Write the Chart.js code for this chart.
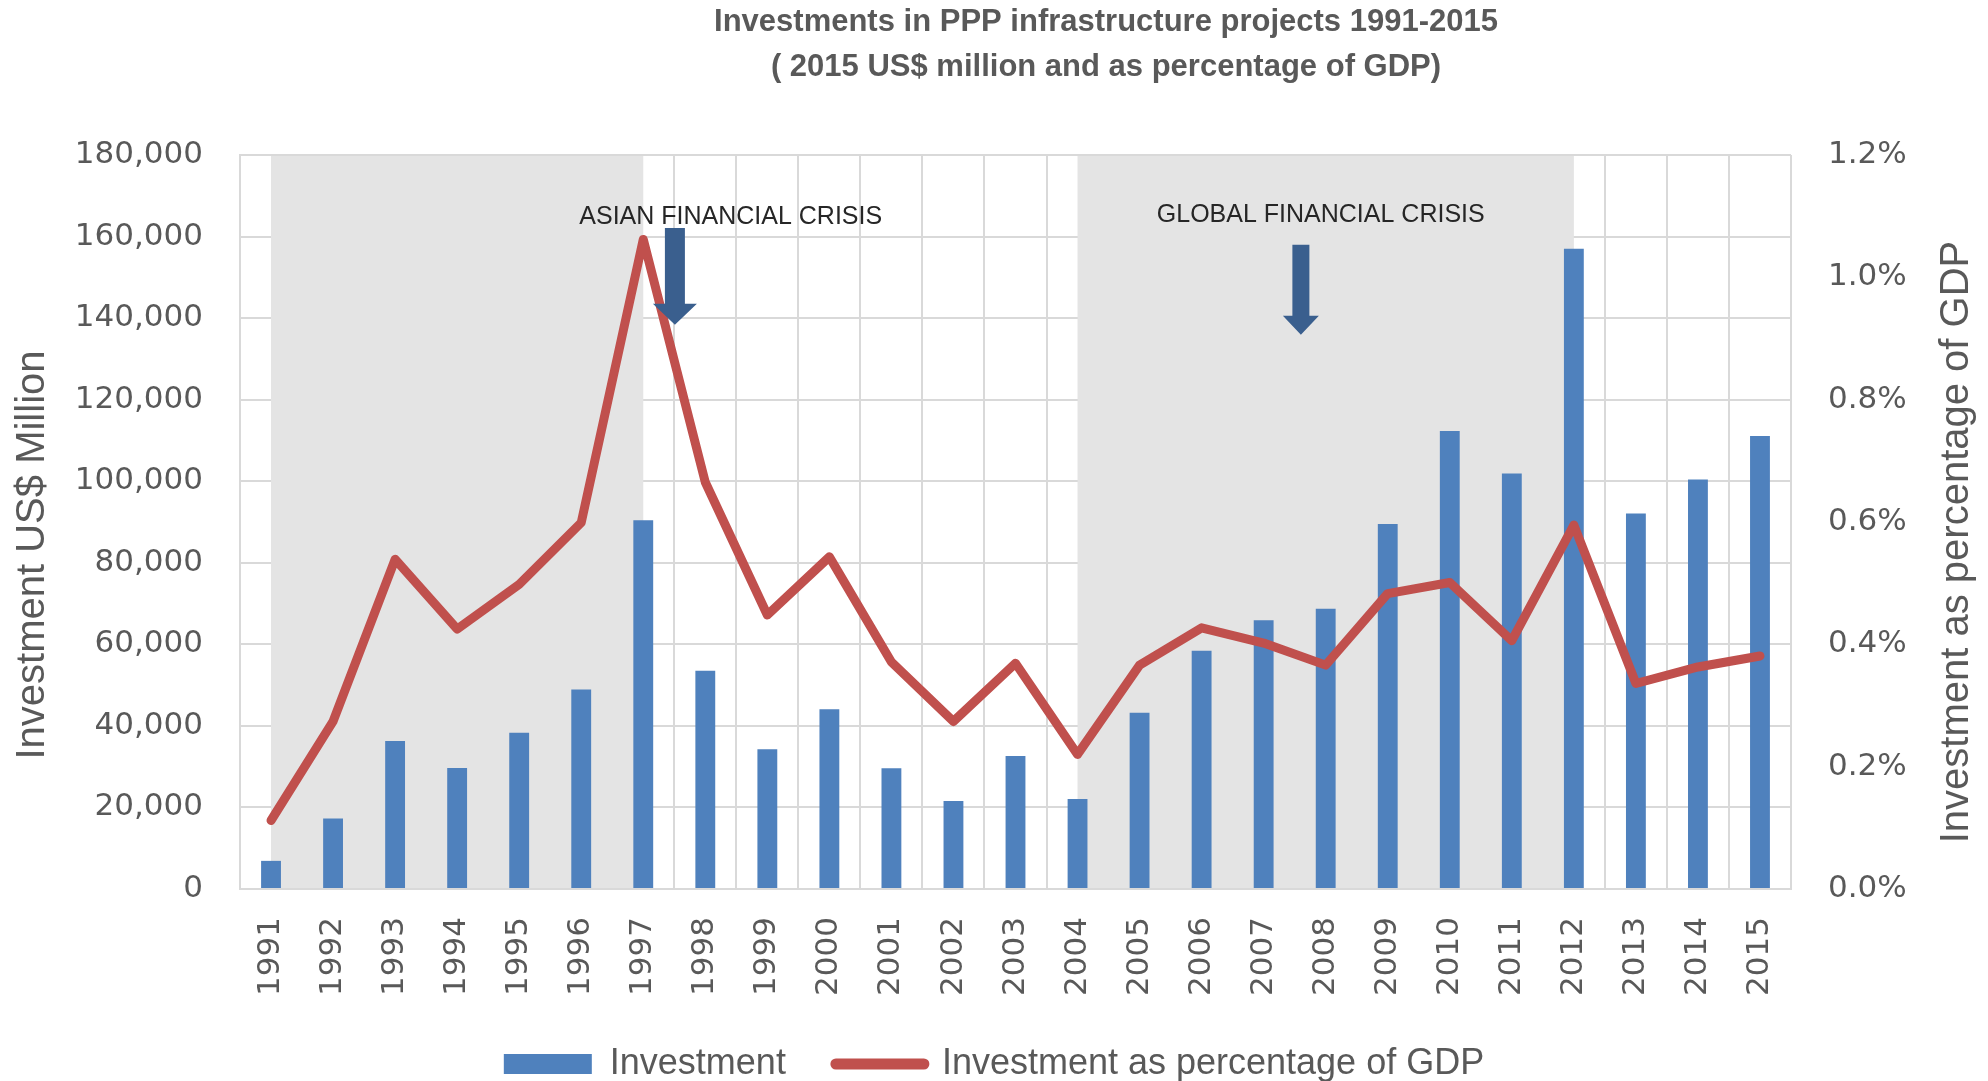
<!DOCTYPE html>
<html>
<head>
<meta charset="utf-8">
<title>Investments in PPP infrastructure projects 1991-2015</title>
<script src="https://cdn.jsdelivr.net/npm/chart.js@4.4.0/dist/chart.umd.min.js"></script>
<style>
    html, body { margin: 0; padding: 0; background: #fff; }
    #wrap { width: 1988px; height: 1081px; }
</style>
</head>
<body>
<div id="wrap"><canvas id="ppp-chart" width="1988" height="1081"></canvas></div>
<script>
/* ── PPP investment chart ── */

const YEARS = ['1991', '1992', '1993', '1994', '1995', '1996', '1997', '1998', '1999', '2000',
    '2001', '2002', '2003', '2004', '2005', '2006', '2007', '2008', '2009', '2010',
    '2011', '2012', '2013', '2014', '2015'];

// 2015 US$ million
const INVESTMENT = [6900, 17300, 36300, 29700, 38300, 48900, 90400, 53500, 34300, 44100,
    29600, 21600, 32600, 22100, 43200, 58400, 65900, 68700, 89500, 112300,
    101900, 157000, 92100, 100400, 111100];

// % of GDP
const GDP_SHARE = [0.112, 0.274, 0.539, 0.425, 0.498, 0.599, 1.062, 0.665, 0.448, 0.543,
    0.371, 0.274, 0.369, 0.220, 0.366, 0.427, 0.402, 0.366, 0.483, 0.501,
    0.406, 0.595, 0.336, 0.363, 0.381];

const TITLE_LINES = ['Investments in PPP infrastructure projects 1991-2015', '( 2015 US$ million and as percentage of GDP)'];
const LEFT_TITLE = 'Investment US$ Million';
const RIGHT_TITLE = 'Investment as percentage of GDP';

// crisis periods (shaded from year to year)
const SHADED = [['1991', '1997'], ['2004', '2012']];

// annotation placement in axis units (category index, left-axis value)
const CRISES = [
    { text: 'ASIAN FINANCIAL CRISIS', at: 7.41, y: 164800,
      arrow: { at: 6.51, top: 162100, neck: 143500, tip: 138400, shaft: 20, head: 44 } },
    { text: 'GLOBAL FINANCIAL CRISIS', at: 16.92, y: 165300,
      arrow: { at: 16.60, top: 158000, neck: 140600, tip: 135900, shaft: 17, head: 36 } },
];

const SANS = '"Liberation Sans", Arial, sans-serif';
const GREY = '#595959';
const GRID = '#d9d9d9';

const shadePlugin = {
    id: 'crisisShade',
    beforeDatasetsDraw(chart) {
        const { ctx, chartArea: a, scales: { x } } = chart;
        ctx.save();
        ctx.fillStyle = '#e4e4e4';
        SHADED.forEach(([from, to]) => {
            const x0 = x.getPixelForValue(YEARS.indexOf(from));
            const x1 = x.getPixelForValue(YEARS.indexOf(to));
            ctx.fillRect(x0, a.top + 1, x1 - x0, a.bottom - a.top - 2);
        });
        ctx.restore();
    },
};

const crisisPlugin = {
    id: 'crisisNotes',
    afterDatasetsDraw(chart) {
        const { ctx, scales: { x, y } } = chart;
        ctx.save();
        ctx.font = '25px ' + SANS;
        ctx.fillStyle = '#262626';
        ctx.textAlign = 'center';
        ctx.textBaseline = 'middle';
        CRISES.forEach(c => {
            ctx.fillText(c.text, x.getPixelForValue(c.at), y.getPixelForValue(c.y));
        });
        ctx.fillStyle = '#3a5f8e';
        CRISES.forEach(({ arrow: ar }) => {
            const cx = x.getPixelForValue(ar.at);
            const top = y.getPixelForValue(ar.top);
            const neck = y.getPixelForValue(ar.neck);
            const tip = y.getPixelForValue(ar.tip);
            ctx.beginPath();
            ctx.moveTo(cx - ar.shaft / 2, top);
            ctx.lineTo(cx + ar.shaft / 2, top);
            ctx.lineTo(cx + ar.shaft / 2, neck);
            ctx.lineTo(cx + ar.head / 2, neck);
            ctx.lineTo(cx, tip);
            ctx.lineTo(cx - ar.head / 2, neck);
            ctx.lineTo(cx - ar.shaft / 2, neck);
            ctx.closePath();
            ctx.fill();
        });
        ctx.restore();
    },
};

// both axis titles read bottom-to-top, as in the source
const axisTitlePlugin = {
    id: 'axisTitles',
    afterDraw(chart) {
        const { ctx, chartArea: a } = chart;
        const mid = (a.top + a.bottom) / 2;
        ctx.save();
        ctx.font = '40px ' + SANS;
        ctx.fillStyle = GREY;
        ctx.textAlign = 'center';
        ctx.textBaseline = 'middle';
        [[LEFT_TITLE, 33, mid + 33], [RIGHT_TITLE, 1957, mid + 20]].forEach(([t, tx, ty]) => {
            ctx.save();
            ctx.translate(tx, ty);
            ctx.rotate(-Math.PI / 2);
            ctx.fillText(t, 0, 0);
            ctx.restore();
        });
        ctx.restore();
    },
};

// title sits right of centre, legend hugs the bottom edge,
// year labels may run past the x-axis box
const nudgePlugin = {
    id: 'nudge',
    afterLayout(chart) {
        chart.titleBlock.left += 224;
        chart.legend.top += 11;
        chart.legend.bottom += 11;
        chart.scales.x.bottom = chart.height;
    },
};

const ctx = document.getElementById('ppp-chart').getContext('2d');
new Chart(ctx, {
    type: 'bar',
    data: {
        labels: YEARS,
        datasets: [
            {
                label: 'Investment',
                data: INVESTMENT,
                backgroundColor: '#4f81bd',
                barPercentage: 0.32,
                categoryPercentage: 1,
                yAxisID: 'y',
                order: 2,
            },
            {
                type: 'line',
                label: 'Investment as percentage of GDP',
                data: GDP_SHARE,
                borderColor: '#c0504d',
                backgroundColor: '#c0504d',
                borderWidth: 9,
                borderJoinStyle: 'round',
                borderCapStyle: 'round',
                pointRadius: 0,
                tension: 0,
                yAxisID: 'y1',
                order: 1,
            },
        ],
    },
    options: {
        responsive: false,
        animation: false,
        layout: { padding: 0 },
        scales: {
            x: {
                offset: true,
                grid: { offset: true, color: GRID, lineWidth: 2, drawTicks: false },
                border: { color: GRID, width: 2 },
                ticks: {
                    color: GREY, padding: 28, minRotation: 90, maxRotation: 90, autoSkip: false,
                    font: { family: '"DejaVu Sans"', size: 31 },
                },
                afterFit: s => { s.height = 96; },
            },
            y: {
                position: 'left',
                min: 0,
                max: 180000,
                grid: { color: GRID, lineWidth: 2, drawTicks: false },
                border: { color: GRID, width: 2 },
                ticks: {
                    stepSize: 20000, color: GREY, padding: 37,
                    font: { family: '"DejaVu Sans"', size: 31 },
                    callback: v => v.toLocaleString('en-US'),
                },
                afterFit: s => { s.width = 240; },
            },
            y1: {
                position: 'right',
                min: 0,
                max: 1.2,
                grid: { drawOnChartArea: false, drawTicks: false },
                border: { display: false },
                ticks: {
                    stepSize: 0.2, color: GREY, padding: 37,
                    font: { family: '"DejaVu Sans"', size: 31 },
                    callback: v => v.toFixed(1) + '%',
                },
                afterFit: s => { s.width = 197; },
            },
        },
        plugins: {
            title: {
                display: true,
                text: TITLE_LINES,
                color: GREY,
                font: { family: SANS, size: 31, weight: 'bold', lineHeight: '45px' },
                padding: { top: 0, bottom: 65 },
            },
            legend: {
                position: 'bottom',
                labels: {
                    color: GREY,
                    font: { family: SANS, size: 36 },
                    usePointStyle: true,
                    pointStyleWidth: 88,
                    boxHeight: 20,
                    padding: 50,
                    // keep dataset order; bar as a block, line as a thick stroke
                    generateLabels(chart) {
                        const items = Chart.defaults.plugins.legend.labels.generateLabels(chart)
                            .sort((a, b) => a.datasetIndex - b.datasetIndex);
                        items.forEach(it => {
                            if (it.datasetIndex === 0) {
                                it.pointStyle = 'rect';
                                it.lineWidth = 0;
                            } else {
                                it.pointStyle = 'line';
                                it.lineWidth = 11;
                                it.lineCap = 'round';
                            }
                        });
                        return items;
                    },
                },
            },
            tooltip: { enabled: false },
        },
    },
    plugins: [shadePlugin, crisisPlugin, axisTitlePlugin, nudgePlugin],
});
</script>
</body>
</html>
